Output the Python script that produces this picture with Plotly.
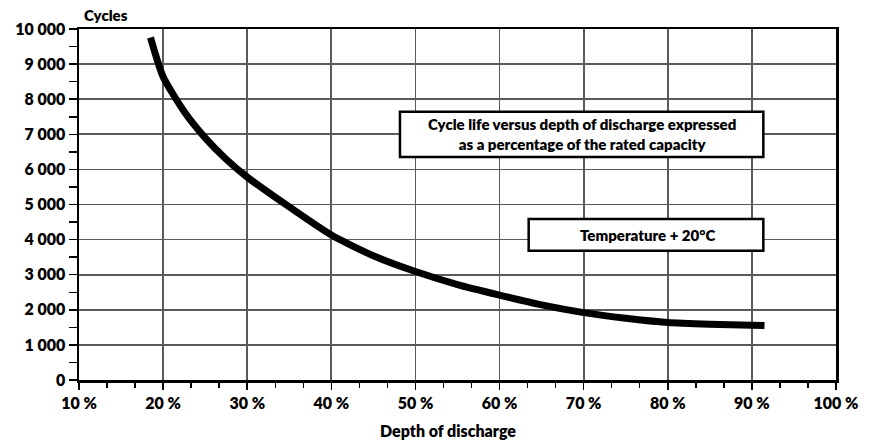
import plotly.graph_objects as go

# Data
depth_pct = [18.5, 20, 22.5, 25, 27.5, 30, 35, 40, 45, 50, 55, 60, 65, 70, 75, 80, 85, 90, 91.5]
cycles = [9760, 8640, 7650, 6900, 6290, 5780, 4930, 4130, 3540, 3090, 2720, 2420, 2140, 1920, 1760, 1640, 1590, 1560, 1550]

x_ticks = [10, 20, 30, 40, 50, 60, 70, 80, 90, 100]
x_tick_labels = ["10 %", "20 %", "30 %", "40 %", "50 %", "60 %", "70 %", "80 %", "90 %", "100 %"]
y_ticks = [0, 1000, 2000, 3000, 4000, 5000, 6000, 7000, 8000, 9000, 10000]
y_tick_labels = ["0", "1 000", "2 000", "3 000", "4 000", "5 000", "6 000", "7 000", "8 000", "9 000", "10 000"]

note_main = "Cycle life versus depth of discharge expressed<br>as a percentage of the rated capacity"
note_temp = "Temperature + 20°C"

FONT = "Lato"
W = 800

fig = go.Figure()
fig.add_trace(go.Scatter(
    x=depth_pct, y=cycles, mode="lines",
    line=dict(color="black", width=7, shape="spline", smoothing=0.6),
    hoverinfo="skip", showlegend=False,
))

fig.update_layout(
    width=870, height=447,
    margin=dict(l=79, r=27, t=29, b=67),
    paper_bgcolor="white", plot_bgcolor="white",
    font=dict(family=FONT, size=16, color="black", weight=W),
    showlegend=False,
)

fig.update_xaxes(
    range=[10, 100], tickvals=x_ticks, ticktext=x_tick_labels,
    showgrid=True, gridcolor="#5a5a5a", gridwidth=1.7,
    showline=True, linecolor="black", linewidth=2.5, mirror=True,
    ticks="outside", ticklen=7, tickwidth=1.5, tickcolor="black",
    minor=dict(dtick=10/3, tick0=10, ticks="outside", ticklen=5, tickwidth=1.5, tickcolor="black", showgrid=False),
    tickfont=dict(family=FONT, size=16, color="black", weight=W),
    zeroline=False, fixedrange=True,
)
fig.update_yaxes(
    range=[0, 10000], tickvals=y_ticks, ticktext=y_tick_labels,
    showgrid=True, gridcolor="#5a5a5a", gridwidth=1.7,
    showline=True, linecolor="black", linewidth=2.5, mirror=True,
    ticks="outside", ticklen=8, tickwidth=1.5, tickcolor="black",
    minor=dict(dtick=500, tick0=0, ticks="outside", ticklen=8, tickwidth=1.5, tickcolor="black", showgrid=False),
    tickfont=dict(family=FONT, size=16, color="black", weight=W),
    zeroline=False, fixedrange=True,
)

# Boxes
b1 = dict(x0=0.424, x1=0.904, y0=0.635, y1=0.764)
b2 = dict(x0=0.594, x1=0.904, y0=0.368, y1=0.459)
for b in (b1, b2):
    fig.add_shape(type="rect", xref="paper", yref="paper", **b,
                  fillcolor="white", line=dict(color="black", width=2.5), layer="above")

fig.add_annotation(xref="paper", yref="paper", x=(b1["x0"] + b1["x1"]) / 2, y=(b1["y0"] + b1["y1"]) / 2,
                   xanchor="center", yanchor="middle",
                   text=note_main, showarrow=False, align="center",
                   font=dict(family=FONT, size=15, color="black", weight=W))
fig.add_annotation(xref="paper", yref="paper", x=0.751, y=(b2["y0"] + b2["y1"]) / 2,
                   xanchor="center", yanchor="middle",
                   text=note_temp, showarrow=False, align="center",
                   font=dict(family=FONT, size=15, color="black", weight=W))

# Axis titles
fig.add_annotation(xref="paper", yref="paper", x=0.004, y=1.0, yshift=3,
                   xanchor="left", yanchor="bottom", text="Cycles", showarrow=False,
                   font=dict(family=FONT, size=15, color="black", weight=W))
fig.add_annotation(xref="paper", yref="paper", x=0.487, y=0, yshift=-39,
                   xanchor="center", yanchor="top", text="Depth of discharge", showarrow=False,
                   font=dict(family=FONT, size=16, color="black", weight=W))

fig.write_html("out.html", config={"displayModeBar": False, "staticPlot": True},
               post_script="document.body.style.margin='0';document.body.style.overflow='hidden';")
